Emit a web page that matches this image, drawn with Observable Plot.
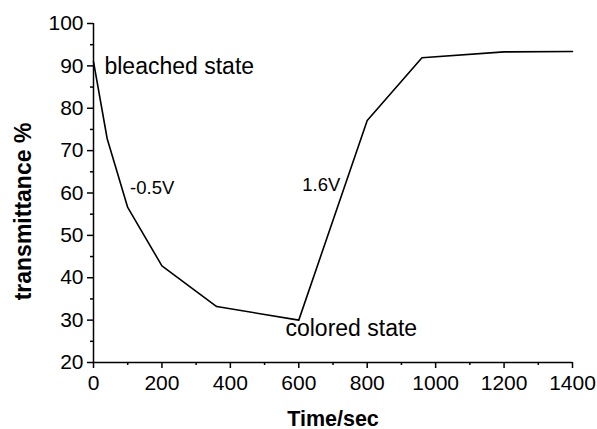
<!DOCTYPE html>
<html>
<head>
<meta charset="utf-8">
<script src="https://cdn.jsdelivr.net/npm/d3@7"></script>
<script src="https://cdn.jsdelivr.net/npm/@observablehq/plot@0.6"></script>
<style>
  html, body { margin: 0; padding: 0; background: #fff; }
  #chart svg { display: block; }
</style>
</head>
<body>
<div id="chart"></div>
<script>
// Data
const times = [0, 40, 100, 200, 360, 600, 800, 960, 1200, 1400];
const transmittance = [91.0, 72.8, 56.6, 42.8, 33.2, 30.0, 77.1, 91.9, 93.3, 93.4];

const xMajorTicks = [0, 200, 400, 600, 800, 1000, 1200, 1400];
const xMinorTicks = [100, 300, 500, 700, 900, 1100, 1300];
const yMajorTicks = [20, 30, 40, 50, 60, 70, 80, 90, 100];
const yMinorTicks = [25, 35, 45, 55, 65, 75, 85, 95];

const stateLabels = ["bleached state", "colored state"];
const stateX = [32, 561];
const stateY = [88.2, 26.3];
const voltLabels = ["-0.5V", "1.6V"];
const voltX = [107, 610];
const voltY = [59.8, 60.4];

const xTitle = "Time/sec";
const yTitle = "transmittance %";

const data = times.map((t, i) => ({time: t, value: transmittance[i]}));
const states = stateLabels.map((s, i) => ({text: s, x: stateX[i], y: stateY[i]}));
const volts = voltLabels.map((s, i) => ({text: s, x: voltX[i], y: voltY[i]}));

const font = "'Liberation Sans', Arial, Helvetica, sans-serif";

const chart = Plot.plot({
  width: 597,
  height: 429,
  marginLeft: 93,
  marginRight: 25,
  marginTop: 23,
  marginBottom: 67,
  style: {fontFamily: font, background: "#fff", color: "#000"},
  x: {domain: [0, 1400]},
  y: {domain: [20, 100]},
  marks: [
    Plot.axisX({ticks: xMajorTicks, tickSize: 6, tickPadding: 7, fontSize: 21, strokeWidth: 1.5, label: null, tickFormat: d => String(d)}),
    Plot.axisX({ticks: xMinorTicks, tickSize: 3, strokeWidth: 1.5, label: null, tickFormat: () => ""}),
    Plot.axisY({ticks: yMajorTicks, tickSize: 6, tickPadding: 4, fontSize: 21, strokeWidth: 1.5, label: null, tickFormat: d => String(d)}),
    Plot.axisY({ticks: yMinorTicks, tickSize: 3, strokeWidth: 1.5, label: null, tickFormat: () => ""}),
    Plot.ruleX([0], {stroke: "#000", strokeWidth: 1.5}),
    Plot.ruleY([20], {stroke: "#000", strokeWidth: 1.5}),
    Plot.line(data, {x: "time", y: "value", stroke: "#000", strokeWidth: 1.6}),
    Plot.text(states, {x: "x", y: "y", text: "text", textAnchor: "start", lineAnchor: "bottom", fontSize: 23, fill: "#000"}),
    Plot.text(volts, {x: "x", y: "y", text: "text", textAnchor: "start", lineAnchor: "bottom", fontSize: 18.5, fill: "#000"}),
    Plot.text([xTitle], {frameAnchor: "bottom", dy: 63, textAnchor: "middle", lineAnchor: "bottom", fontSize: 21.5, fontWeight: "bold", fill: "#000"}),
    Plot.text([yTitle], {frameAnchor: "left", rotate: -90, dx: -70, dy: 18.5, textAnchor: "middle", lineAnchor: "middle", fontSize: 23, fontWeight: "bold", fill: "#000"})
  ]
});
document.getElementById("chart").appendChild(chart);
</script>
</body>
</html>
